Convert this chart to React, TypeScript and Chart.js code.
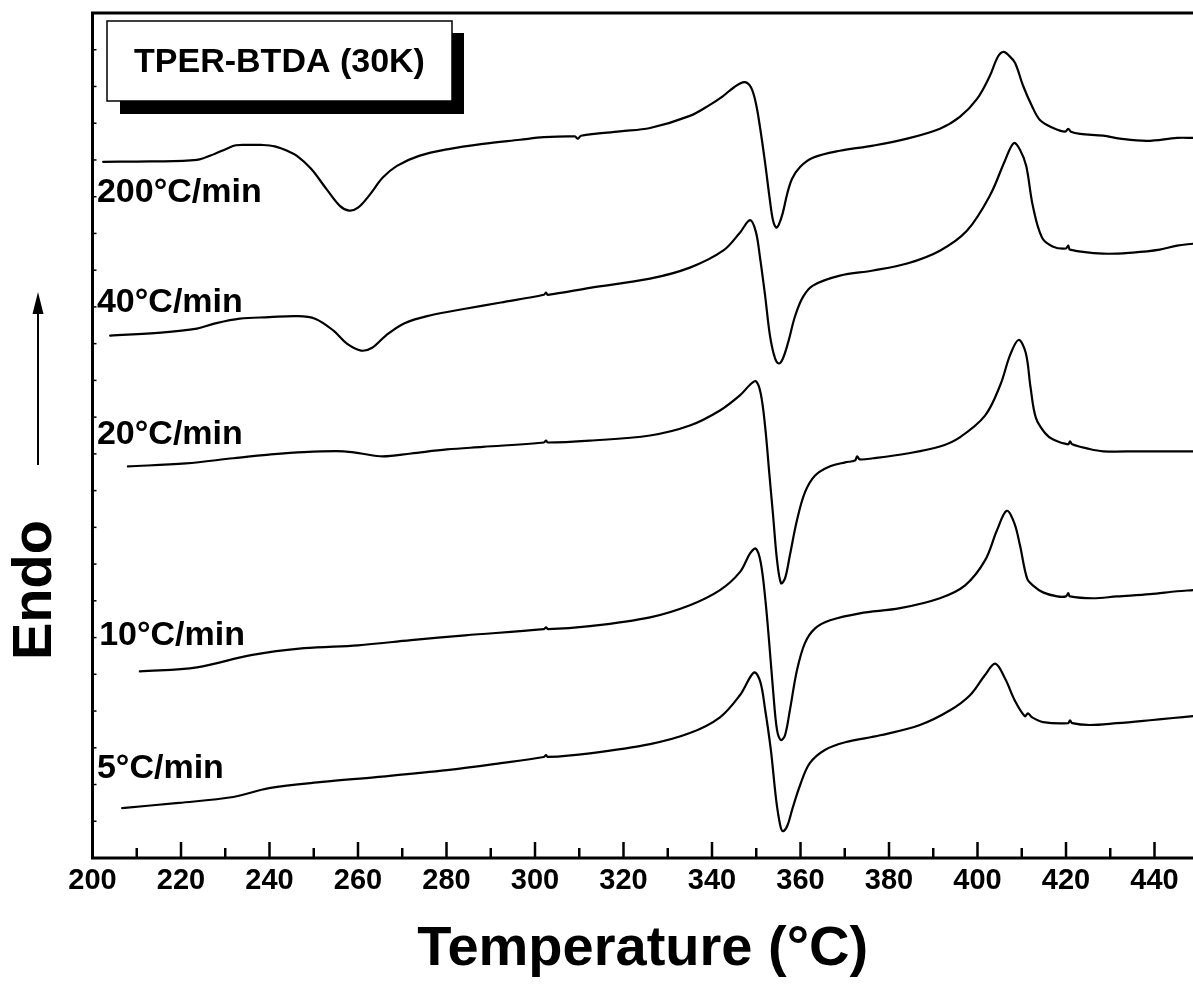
import React, { useEffect, useRef } from 'react';
import { Chart, registerables } from 'chart.js';

Chart.register(...registerables);

// ---- axes ----
const X_MIN = 200;
const X_MAX = 448.7;
const Y_MIN = 0;
const Y_MAX = 23;
const X_TICKS = [200, 210, 220, 230, 240, 250, 260, 270, 280, 290, 300, 310, 320, 330, 340, 350, 360, 370, 380, 390, 400, 410, 420, 430, 440];
const X_TITLE = 'Temperature (°C)';
const Y_TITLE = 'Endo';
const SAMPLE_NAME = 'TPER-BTDA (30K)';

// ---- series: temperature (°C) and heat flow (a.u., offset) ----
const T_200 = [202.4, 213.0, 223.6, 227.7, 230.2, 232.4, 235.6, 238.1, 241.2, 244.0, 246.2, 249.4, 252.8, 255.9, 258.0, 260.0, 262.5, 265.6, 268.8, 273.8, 280.1, 288.2, 296.6, 302.0, 309.0, 309.7, 310.4, 319.2, 326.0, 335.0, 339.5, 342.5, 345.0, 347.3, 348.8, 349.9, 350.8, 352.0, 353.1, 353.8, 354.5, 355.1, 356.0, 357.0, 358.1, 359.9, 362.8, 368.9, 376.4, 384.1, 391.5, 396.0, 399.9, 402.8, 404.6, 405.9, 407.1, 408.5, 410.3, 412.3, 414.1, 417.1, 419.8, 420.5, 421.1, 423.2, 428.4, 432.2, 438.3, 445.1, 448.7];
const Y_200 = [18.95, 18.96, 19.00, 19.17, 19.30, 19.40, 19.41, 19.41, 19.37, 19.25, 19.11, 18.76, 18.22, 17.75, 17.62, 17.70, 18.03, 18.52, 18.84, 19.11, 19.29, 19.44, 19.55, 19.62, 19.64, 19.58, 19.66, 19.78, 19.87, 20.20, 20.50, 20.74, 20.98, 21.12, 20.98, 20.55, 19.93, 18.92, 17.89, 17.35, 17.16, 17.24, 17.56, 18.08, 18.49, 18.81, 19.06, 19.25, 19.39, 19.58, 19.85, 20.17, 20.66, 21.29, 21.81, 21.94, 21.84, 21.64, 21.02, 20.47, 20.09, 19.87, 19.77, 19.85, 19.77, 19.71, 19.66, 19.58, 19.52, 19.60, 19.60];

const T_40 = [204.0, 215.5, 223.6, 227.7, 233.3, 239.9, 246.2, 250.3, 254.4, 257.5, 260.7, 263.2, 266.3, 270.4, 276.0, 284.2, 292.3, 302.0, 302.5, 302.9, 312.4, 326.0, 335.0, 342.5, 346.3, 348.6, 349.9, 350.8, 352.0, 353.1, 354.2, 355.1, 356.0, 357.2, 358.8, 360.6, 362.8, 368.9, 376.4, 384.1, 391.5, 397.6, 402.8, 406.2, 408.2, 409.6, 411.0, 412.5, 414.6, 417.1, 420.0, 420.5, 420.9, 428.4, 435.1, 441.2, 445.1, 448.7];
const Y_40 = [14.22, 14.30, 14.41, 14.55, 14.68, 14.72, 14.75, 14.68, 14.36, 14.00, 13.81, 13.89, 14.22, 14.55, 14.76, 14.95, 15.12, 15.33, 15.39, 15.33, 15.52, 15.77, 16.07, 16.53, 17.02, 17.36, 17.05, 16.39, 15.31, 14.22, 13.62, 13.46, 13.59, 14.03, 14.76, 15.28, 15.58, 15.85, 15.99, 16.18, 16.53, 17.07, 18.03, 18.98, 19.46, 19.28, 18.84, 17.75, 16.88, 16.64, 16.59, 16.67, 16.56, 16.45, 16.48, 16.56, 16.67, 16.72];

const T_20 = [208.0, 221.1, 231.8, 239.9, 247.8, 256.8, 260.7, 265.6, 272.0, 280.1, 288.2, 302.0, 302.5, 302.9, 312.4, 326.0, 335.0, 341.8, 346.3, 348.6, 349.9, 351.0, 352.0, 353.0, 353.8, 354.7, 355.6, 356.5, 357.6, 359.2, 361.0, 363.3, 366.7, 370.1, 372.3, 372.8, 373.4, 376.4, 384.1, 391.5, 396.0, 401.7, 405.1, 407.4, 409.3, 410.9, 412.0, 413.2, 415.3, 417.1, 420.5, 420.9, 421.4, 424.7, 428.4, 436.7, 444.2, 448.7];
const Y_20 = [10.66, 10.74, 10.88, 10.98, 11.05, 11.07, 11.01, 10.93, 11.01, 11.12, 11.19, 11.31, 11.36, 11.31, 11.36, 11.50, 11.77, 12.18, 12.59, 12.88, 12.98, 12.65, 11.75, 10.40, 9.33, 8.10, 7.48, 7.61, 8.24, 9.19, 9.95, 10.41, 10.66, 10.77, 10.82, 10.93, 10.85, 10.88, 11.01, 11.20, 11.45, 12.04, 12.86, 13.70, 14.10, 13.75, 12.80, 11.98, 11.56, 11.39, 11.26, 11.34, 11.26, 11.15, 11.07, 11.07, 11.07, 11.07];

const T_10 = [210.7, 223.6, 235.8, 247.8, 260.0, 272.0, 284.2, 302.0, 302.5, 302.9, 312.4, 326.0, 335.0, 341.8, 346.3, 348.6, 349.9, 351.0, 352.0, 352.9, 353.8, 354.7, 355.6, 356.5, 357.6, 359.2, 361.0, 363.3, 366.7, 373.4, 382.5, 391.5, 397.2, 401.7, 404.4, 406.6, 408.3, 409.6, 411.2, 412.5, 414.8, 418.0, 420.0, 420.5, 420.9, 426.1, 431.5, 439.0, 445.1, 448.7];
const Y_10 = [5.08, 5.19, 5.52, 5.71, 5.79, 5.93, 6.06, 6.23, 6.28, 6.23, 6.31, 6.55, 6.88, 7.29, 7.78, 8.29, 8.42, 8.05, 7.10, 5.90, 4.57, 3.48, 3.21, 3.34, 4.02, 5.11, 5.85, 6.25, 6.47, 6.66, 6.80, 7.07, 7.42, 8.10, 8.92, 9.45, 9.12, 8.51, 7.61, 7.42, 7.23, 7.12, 7.12, 7.21, 7.12, 7.07, 7.12, 7.18, 7.26, 7.29];

const T_5 = [206.7, 219.5, 231.8, 239.9, 251.9, 264.1, 280.1, 292.3, 302.0, 302.5, 302.9, 312.4, 326.0, 335.0, 341.8, 346.3, 349.5, 350.9, 352.0, 353.3, 354.5, 355.4, 356.0, 357.0, 358.1, 359.9, 362.1, 365.5, 370.1, 378.0, 387.0, 393.8, 398.3, 401.7, 404.0, 406.2, 408.5, 410.7, 411.4, 412.3, 414.8, 420.5, 420.9, 421.4, 425.4, 431.5, 439.0, 444.2, 448.7];
const Y_5 = [1.36, 1.50, 1.66, 1.90, 2.07, 2.20, 2.39, 2.58, 2.75, 2.80, 2.75, 2.85, 3.10, 3.40, 3.83, 4.43, 5.05, 4.80, 4.05, 2.94, 1.58, 0.90, 0.73, 0.87, 1.31, 1.98, 2.58, 2.94, 3.15, 3.34, 3.62, 4.02, 4.43, 4.98, 5.29, 4.89, 4.27, 3.86, 3.94, 3.83, 3.70, 3.67, 3.75, 3.67, 3.62, 3.67, 3.75, 3.81, 3.86];

// ---- curve labels (text, anchor temperature, anchor heat-flow value) ----
const RATE_LABELS = ['200°C/min', '40°C/min', '20°C/min', '10°C/min', '5°C/min'];
const LABEL_T = [201.0, 201.0, 201.0, 201.5, 201.0];
const LABEL_Y = [18.12, 15.12, 11.52, 6.04, 2.42];

const SERIES_T = [T_200, T_40, T_20, T_10, T_5];
const SERIES_Y = [Y_200, Y_40, Y_20, Y_10, Y_5];

const FONT = '"Liberation Sans", Arial, Helvetica, sans-serif';

function zip(ts: number[], ys: number[]) {
  const n = Math.min(ts.length, ys.length);
  const out: { x: number; y: number }[] = [];
  for (let i = 0; i < n; i++) out.push({ x: ts[i], y: ys[i] });
  return out;
}

const decorPlugin = {
  id: 'decor',
  afterDraw(chart: any) {
    const { ctx, chartArea: ca, scales } = chart;
    const xs = scales.x;
    const ys = scales.y;
    ctx.save();
    ctx.strokeStyle = '#000';
    ctx.fillStyle = '#000';
    ctx.lineCap = 'butt';

    const line = (x1: number, y1: number, x2: number, y2: number) => {
      ctx.beginPath();
      ctx.moveTo(x1, y1);
      ctx.lineTo(x2, y2);
      ctx.stroke();
    };

    // y minor ticks (inward)
    ctx.lineWidth = 1.5;
    for (let v = Y_MIN; v <= Y_MAX; v++) {
      const py = ys.getPixelForValue(v);
      line(ca.left, py, ca.left + 4, py);
    }

    // x ticks (inward): major every 20, minor every 10
    ctx.lineWidth = 2.5;
    for (const v of X_TICKS) {
      const px = xs.getPixelForValue(v);
      const len = v % 20 === 0 ? 16 : 10;
      line(px, ca.bottom, px, ca.bottom - len);
    }

    // frame: top, left, bottom (right edge is cut off)
    ctx.lineWidth = 3;
    ctx.beginPath();
    ctx.moveTo(ca.right + 2, ca.top);
    ctx.lineTo(ca.left, ca.top);
    ctx.lineTo(ca.left, ca.bottom);
    ctx.lineTo(ca.right + 2, ca.bottom);
    ctx.stroke();

    // sample name box with drop shadow
    const bx = ca.left + 14.5;
    const by = ca.top + 8;
    const bw = 345;
    const bh = 80;
    ctx.fillStyle = '#000';
    ctx.fillRect(bx + 13, by + 12, bw - 1, bh + 1);
    ctx.fillStyle = '#fff';
    ctx.fillRect(bx, by, bw, bh);
    ctx.lineWidth = 1.5;
    ctx.strokeRect(bx, by, bw, bh);
    ctx.fillStyle = '#000';
    ctx.font = `bold 34px ${FONT}`;
    ctx.textAlign = 'center';
    ctx.textBaseline = 'middle';
    ctx.fillText(SAMPLE_NAME, bx + bw / 2, by + bh / 2 + 2);

    // heating-rate labels
    ctx.font = `bold 34px ${FONT}`;
    ctx.textAlign = 'left';
    ctx.textBaseline = 'middle';
    RATE_LABELS.forEach((txt, i) => {
      ctx.fillText(txt, xs.getPixelForValue(LABEL_T[i]), ys.getPixelForValue(LABEL_Y[i]));
    });

    // "Endo" with upward arrow on the left
    const ax = 38;
    const tipY = 292;
    const headLen = 22;
    ctx.lineWidth = 2;
    line(ax, tipY + headLen - 2, ax, 465);
    ctx.beginPath();
    ctx.moveTo(ax, tipY);
    ctx.lineTo(ax - 5.5, tipY + headLen);
    ctx.lineTo(ax + 5.5, tipY + headLen);
    ctx.closePath();
    ctx.fill();

    ctx.save();
    ctx.translate(36, 590);
    ctx.rotate(-Math.PI / 2);
    ctx.font = `bold 56px ${FONT}`;
    ctx.textAlign = 'center';
    ctx.textBaseline = 'middle';
    ctx.fillText(Y_TITLE, 0, 0);
    ctx.restore();

    ctx.restore();
  },
};

export default function App() {
  const ref = useRef<HTMLCanvasElement | null>(null);

  useEffect(() => {
    if (!ref.current) return;
    const datasets = SERIES_T.map((ts, i) => ({
      label: RATE_LABELS[i],
      data: zip(ts, SERIES_Y[i]),
      borderColor: '#000',
      borderWidth: 2.2,
      pointRadius: 0,
      fill: false,
      tension: 0.35,
      borderJoinStyle: 'round' as const,
      borderCapStyle: 'round' as const,
    }));

    const chart = new Chart(ref.current, {
      type: 'line',
      data: { datasets },
      plugins: [decorPlugin],
      options: {
        animation: false,
        responsive: false,
        devicePixelRatio: 1,
        layout: { padding: { left: 92.5, top: 13, right: 0, bottom: 11.4 } },
        plugins: { legend: { display: false }, tooltip: { enabled: false } },
        scales: {
          x: {
            type: 'linear',
            position: 'bottom',
            min: X_MIN,
            max: X_MAX,
            grid: { display: false, drawTicks: false, tickLength: 0 },
            border: { display: false },
            afterBuildTicks: (scale: any) => {
              scale.ticks = X_TICKS.map((v) => ({ value: v }));
            },
            ticks: {
              autoSkip: false,
              maxRotation: 0,
              minRotation: 0,
              padding: 6,
              color: '#000',
              font: { family: FONT, size: 29, weight: 'bold' },
              callback: (v: any) => (Number(v) % 20 === 0 ? String(v) : ''),
            },
            title: {
              display: true,
              text: X_TITLE,
              color: '#000',
              font: { family: FONT, size: 56, weight: 'bold' },
              padding: { top: 11.6, bottom: 0 },
            },
          },
          y: {
            type: 'linear',
            display: false,
            min: Y_MIN,
            max: Y_MAX,
          },
        },
      },
    });
    return () => chart.destroy();
  }, []);

  return (
    <div style={{ position: 'absolute', left: 0, top: 0, width: 1193, height: 995, background: '#fff' }}>
      <canvas ref={ref} width={1193} height={995} style={{ display: 'block', width: 1193, height: 995 }} />
    </div>
  );
}
